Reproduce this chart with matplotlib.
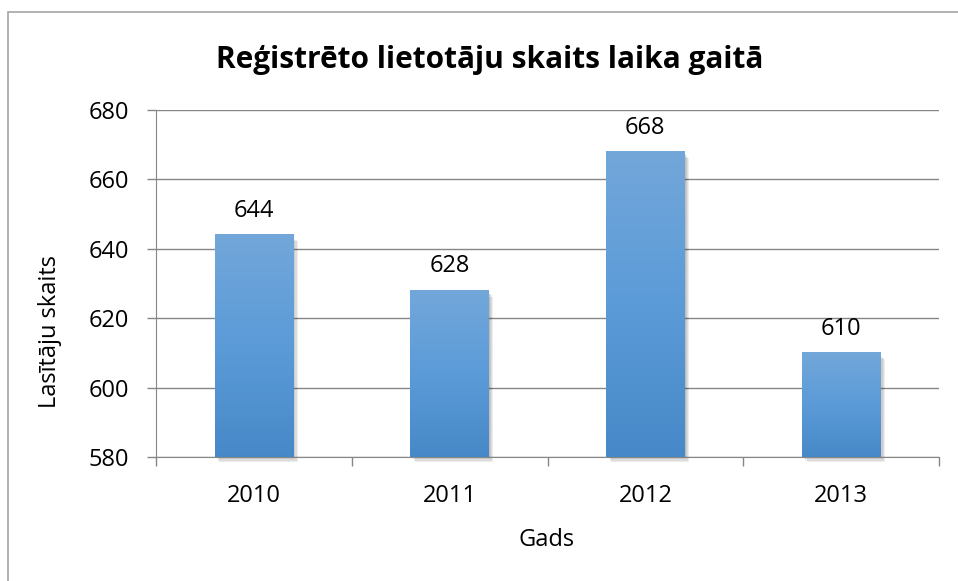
import numpy as np
import matplotlib.pyplot as plt
from matplotlib.patches import Rectangle
from matplotlib.colors import LinearSegmentedColormap

years = ['2010', '2011', '2012', '2013']
users = [644, 628, 668, 610]
y_ticks = [580, 600, 620, 640, 660, 680]

title = 'Reģistrēto lietotāju skaits laika gaitā'
x_label = 'Gads'
y_label = 'Lasītāju skaits'

plt.rcParams['font.family'] = ['Open Sans', 'DejaVu Sans']

fig = plt.figure(figsize=(9.58, 5.81), dpi=100)
W, H = 958, 581
ax = fig.add_axes([156 / W, 1 - 457 / H, 783 / W, 347 / H])

# frame around the whole chart
fig.patches.append(Rectangle((8 / W, -0.1), 1.2, 1 - 12 / H + 0.1,
                             transform=fig.transFigure, fill=False,
                             edgecolor='#a6a6a6', linewidth=1.2))

# gradient bars with a soft shadow
cmap = LinearSegmentedColormap.from_list('bar', ['#4788c8', '#5b9bd8', '#73a7da'])
grad = np.linspace(0, 1, 256).reshape(-1, 1)
bw = 0.40
x = np.arange(len(years))
for xi, v in zip(x, users):
    for k in range(1, 5):
        off = 0.006 * k
        ax.add_patch(Rectangle((xi - bw / 2 + off, y_ticks[0] - 0.35 * k), bw, v - y_ticks[0] - 0.4,
                               facecolor='#000000', alpha=0.07, edgecolor='none', zorder=2,
                               clip_on=False))
    ax.imshow(grad, cmap=cmap, origin='lower', aspect='auto',
              extent=(xi - bw / 2, xi + bw / 2, y_ticks[0], v), zorder=3)
    ax.text(xi, v + 5.2, str(v), ha='center', va='baseline', fontsize=17, color='black')

ax.set_xlim(-0.5, len(years) - 0.5)
ax.set_ylim(y_ticks[0], y_ticks[-1])
ax.set_yticks(y_ticks)
ax.set_yticklabels([str(t) for t in y_ticks], fontsize=17)
ax.set_xticks(x)
ax.set_xticklabels(years, fontsize=17)
ax.tick_params(axis='x', length=0, pad=19.5)
ax.tick_params(axis='y', length=6.5, pad=13, color='#868686', width=1)
ax.set_xticks(np.arange(-0.5, len(years)), minor=True)
ax.tick_params(axis='x', which='minor', length=6.5, color='#868686', width=1)
ax.yaxis.grid(True, color='#868686', linewidth=1)
ax.set_axisbelow(True)
for s in ['top', 'right']:
    ax.spines[s].set_visible(False)
ax.spines['bottom'].set_color('#868686')
ax.spines['left'].set_color('#868686')

# axis titles placed like in the original chart
fig.text(547 / W, 1 - 540 / H, x_label, ha='center', va='center', fontsize=17)
fig.text(50 / W, 1 - 331 / H, y_label, ha='center', va='center', fontsize=17, rotation=90)
fig.text(490 / W, 1 - 60 / H, title, ha='center', va='center',
         fontsize=21.5, fontweight='bold')

fig.savefig('out.png', dpi=100)
